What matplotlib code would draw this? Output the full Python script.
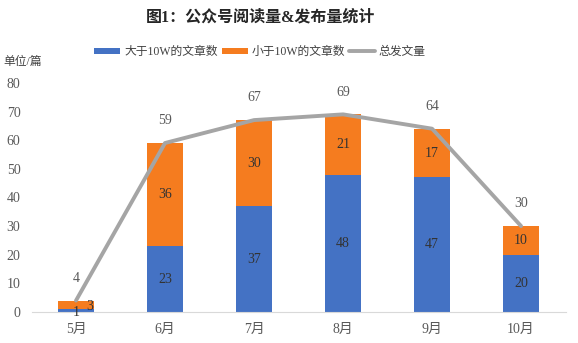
import matplotlib
matplotlib.use("Agg")
import matplotlib.pyplot as plt
import numpy as np

months = ["5月", "6月", "7月", "8月", "9月", "10月"]
above_10w = [1, 23, 37, 48, 47, 20]
below_10w = [3, 36, 30, 21, 17, 10]
total = [4, 59, 67, 69, 64, 30]

FAM = ['Liberation Serif', 'Noto Sans CJK SC']
plt.rcParams['font.family'] = FAM

blue = '#4472C4'
orange = '#F57C1F'
gray = '#A5A5A5'

fig = plt.figure(figsize=(5.78, 3.43), dpi=100)
ax = fig.add_axes([0.0545, 0.0904, 0.924, 0.668])

x = np.arange(len(months))
w = 0.41
b1 = ax.bar(x, above_10w, w, color=blue, label='大于10W的文章数', zorder=2)
b2 = ax.bar(x, below_10w, w, bottom=above_10w, color=orange, label='小于10W的文章数', zorder=2)
l1, = ax.plot(x, total, color=gray, lw=2.8, label='总发文量', zorder=3, solid_capstyle='round')

ax.set_xlim(-0.5, len(months) - 0.5)
ax.set_ylim(0, 80)
ax.set_yticks(range(0, 81, 10))
ax.set_xticks(x)
ax.set_xticklabels(months)
for s in ['top', 'right', 'left']:
    ax.spines[s].set_visible(False)
ax.spines['bottom'].set_color('#D9D9D9')
ax.tick_params(axis='both', length=0, labelsize=10, colors='#595959')
ax.tick_params(axis='x', pad=8)
ax.tick_params(axis='y', pad=8)

txt = '#333333'
for i in range(len(months)):
    a, b, t = above_10w[i], below_10w[i], total[i]
    if i == 0:
        ax.text(x[i], a / 2 - 0.6, str(a), ha='center', va='center', fontsize=10, color=txt, zorder=4)
        ax.text(x[i] + 0.15, a + b / 2 - 0.5, str(b), ha='center', va='center', fontsize=10, color=txt, zorder=4)
    else:
        ax.text(x[i], a / 2, str(a), ha='center', va='center', fontsize=10, color=txt, zorder=4)
        ax.text(x[i], a + b / 2, str(b), ha='center', va='center', fontsize=10, color=txt, zorder=4)
    ax.text(x[i], t + 5.5, str(t), ha='center', va='bottom', fontsize=10, color='#595959', zorder=4)

fig.text(0.45, 0.948, '图1：公众号阅读量&发布量统计', ha='center', va='center',
         fontsize=11.5, fontweight='bold', color='#262626')
fig.text(0.006, 0.818, '单位/篇', ha='left', va='center', fontsize=8.5, color='#404040')

leg = fig.legend(handles=[b1, b2, l1], loc='center', bbox_to_anchor=(0.45, 0.848), ncol=3,
                 frameon=False, fontsize=8.5, handlelength=2.2, handleheight=0.45,
                 handletextpad=0.35, columnspacing=0.3, labelcolor='#404040')

fig.savefig('out.png', dpi=100)
